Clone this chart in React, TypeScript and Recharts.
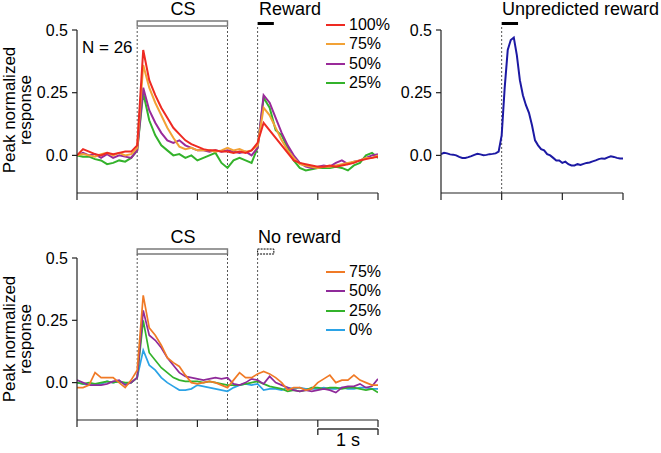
import React from 'react';
import { LineChart, Line, XAxis, YAxis, ReferenceLine, ReferenceArea } from 'recharts';

// ---------- time axes (s) ----------
const timeMain = [
  -1.0, -0.9, -0.8, -0.7, -0.6, -0.5, -0.4, -0.3, -0.2, -0.1, 0.0,
  0.1, 0.2, 0.3, 0.4, 0.5, 0.6, 0.7, 0.8, 0.9, 1.0,
  1.1, 1.2, 1.3, 1.4, 1.5, 1.6, 1.7, 1.8, 1.9, 2.0,
  2.1, 2.2, 2.3, 2.4, 2.5, 2.6, 2.7, 2.8, 2.9, 3.0,
  3.1, 3.2, 3.3, 3.4, 3.5, 3.6, 3.7, 3.8, 3.9, 4.0,
];
const timeUnpred = [
  -1.0, -0.95, -0.9, -0.85, -0.8, -0.75, -0.7, -0.65, -0.6, -0.55, -0.5,
  -0.45, -0.4, -0.35, -0.3, -0.25, -0.2, -0.15, -0.1, -0.05, 0.0,
  0.05, 0.1, 0.15, 0.2, 0.25, 0.3, 0.35, 0.4, 0.45, 0.5,
  0.55, 0.6, 0.65, 0.7, 0.75, 0.8, 0.85, 0.9, 0.95, 1.0,
  1.05, 1.1, 1.15, 1.2, 1.25, 1.3, 1.35, 1.4, 1.45, 1.5,
  1.55, 1.6, 1.65, 1.7, 1.75, 1.8, 1.85, 1.9, 1.95, 2.0,
];

// ---------- tick labels ----------
const mainXTicks = [-1, 0, 1, 2, 3, 4];
const unpredXTicks = [-1, 0, 1, 2];
const yTicks = [0, 0.25, 0.5];
const yTickLabels = ['0.0', '0.25', '0.5'];

// ---------- rewarded trials (top-left) ----------
const rew100 = [
  0.0, 0.025, 0.015, 0.005, 0.0, 0.01, 0.005, 0.01, 0.015, 0.015, 0.04,
  0.42, 0.30, 0.24, 0.19, 0.15, 0.11, 0.085, 0.06, 0.045, 0.035,
  0.025, 0.02, 0.02, 0.015, 0.015, 0.01, 0.015, 0.01, 0.02, 0.05,
  0.13, 0.10, 0.07, 0.04, 0.01, -0.02, -0.03, -0.035, -0.04, -0.045,
  -0.045, -0.04, -0.045, -0.04, -0.035, -0.03, -0.02, -0.015, -0.01, -0.005,
];
const rew75 = [
  0.0, 0.005, 0.0, -0.005, 0.005, 0.01, 0.0, 0.01, 0.0, 0.005, 0.03,
  0.36, 0.27, 0.21, 0.16, 0.11, 0.07, 0.035, 0.025, 0.03, 0.02,
  0.02, 0.02, 0.015, 0.02, 0.03, 0.02, 0.025, 0.015, 0.02, 0.04,
  0.19, 0.16, 0.11, 0.06, 0.02, -0.01, -0.035, -0.04, -0.045, -0.05,
  -0.045, -0.045, -0.04, -0.035, -0.03, -0.025, -0.02, -0.01, -0.01, 0.0,
];
const rew50 = [
  0.0, 0.01, 0.0, 0.005, -0.01, 0.005, -0.01, 0.0, -0.005, -0.01, 0.02,
  0.27, 0.18, 0.13, 0.09, 0.06, 0.05, 0.06, 0.04, 0.03, 0.02,
  0.02, 0.015, 0.02, 0.015, 0.02, 0.015, 0.01, 0.015, 0.0, 0.03,
  0.24, 0.21, 0.15, 0.09, 0.04, 0.0, -0.03, -0.045, -0.05, -0.045,
  -0.04, -0.045, -0.03, -0.02, -0.035, -0.025, -0.02, -0.01, 0.0, 0.005,
];
const rew25 = [
  0.0, -0.005, -0.005, -0.015, -0.02, -0.035, -0.03, -0.02, -0.025, -0.01, 0.02,
  0.25, 0.14, 0.08, 0.04, 0.02, 0.0, 0.005, -0.01, 0.0, -0.02,
  -0.01, 0.0, 0.01, -0.03, -0.05, -0.02, -0.01, -0.02, -0.03, 0.03,
  0.23, 0.19, 0.10, 0.08, 0.03, -0.02, -0.05, -0.06, -0.055, -0.05,
  -0.05, -0.05, -0.045, -0.05, -0.06, -0.04, -0.03, 0.0, 0.01, -0.01,
];

// ---------- unpredicted reward (top-right) ----------
const unpredicted = [
  0.005, 0.01, 0.008, 0.004, 0.003, 0.0, -0.006, -0.01, -0.01, -0.007, -0.003,
  0.002, 0.006, 0.004, 0.001, 0.002, 0.005, 0.006, 0.008, 0.015, 0.08,
  0.27, 0.42, 0.46, 0.47, 0.40, 0.30, 0.24, 0.20, 0.17, 0.12,
  0.06, 0.04, 0.025, 0.02, 0.005, 0.0, -0.01, -0.02, -0.02, -0.03,
  -0.025, -0.035, -0.04, -0.04, -0.035, -0.038, -0.034, -0.03, -0.028, -0.024,
  -0.02, -0.015, -0.012, -0.013, -0.008, -0.004, -0.006, -0.01, -0.012, -0.012,
];

// ---------- unrewarded trials (bottom) ----------
const omit75 = [
  -0.02, -0.02, -0.01, 0.04, 0.02, 0.02, 0.02, 0.0, -0.02, 0.01, 0.05,
  0.35, 0.22, 0.19, 0.15, 0.10, 0.08, 0.065, 0.03, 0.0, -0.005,
  0.0, 0.005, 0.0, -0.01, -0.02, 0.01, 0.04, 0.02, 0.02, 0.035,
  0.045, 0.035, 0.02, 0.0, -0.03, -0.02, -0.02, -0.03, -0.025, 0.0,
  0.015, 0.03, 0.0, 0.01, 0.01, 0.03, 0.01, 0.0, -0.01, -0.01,
];
const omit50 = [
  0.01, 0.0, -0.01, -0.01, -0.01, -0.005, 0.005, 0.01, -0.01, 0.0, 0.02,
  0.29, 0.19, 0.17, 0.14, 0.10, 0.07, 0.04, 0.025, 0.02, 0.015,
  0.01, 0.015, 0.02, 0.015, 0.02, -0.005, -0.01, 0.0, 0.015, 0.01,
  -0.005, 0.025, 0.0, -0.01, -0.02, -0.03, -0.035, -0.03, -0.035, -0.03,
  -0.025, -0.03, -0.04, -0.02, -0.015, -0.015, -0.005, -0.02, -0.015, 0.015,
];
const omit25 = [
  0.0, -0.005, 0.0, -0.005, 0.0, 0.005, 0.0, 0.005, 0.0, 0.0, 0.02,
  0.25, 0.12, 0.09, 0.06, 0.04, 0.02, 0.01, 0.005, 0.005, 0.005,
  0.0, 0.005, 0.0, -0.005, -0.01, -0.01, -0.01, -0.005, 0.0, 0.005,
  -0.005, -0.015, -0.02, -0.025, -0.035, -0.03, -0.035, -0.03, -0.02, -0.02,
  -0.025, -0.02, -0.02, -0.025, -0.02, -0.02, -0.025, -0.03, -0.025, -0.04,
];
const omit0 = [
  0.0, -0.005, -0.01, -0.01, -0.005, 0.005, 0.0, 0.005, -0.005, 0.0, 0.02,
  0.13, 0.07, 0.05, 0.02, 0.0, -0.015, -0.03, -0.03, -0.025, -0.01,
  -0.015, -0.02, -0.025, -0.03, -0.035, -0.02, -0.01, -0.005, -0.01, -0.005,
  -0.03, -0.025, -0.025, -0.03, -0.02, -0.025, -0.02, -0.025, -0.025, -0.025,
  -0.02, -0.025, -0.025, -0.02, -0.025, -0.025, -0.02, -0.02, -0.025, -0.025,
];

// ---------- series definitions ----------
const topSeries = [
  { key: 'p25', name: '25%', color: '#33b22b', values: rew25 },
  { key: 'p50', name: '50%', color: '#9a2a9a', values: rew50 },
  { key: 'p75', name: '75%', color: '#f2a236', values: rew75 },
  { key: 'p100', name: '100%', color: '#ee2a22', values: rew100 },
];
const topLegendOrder = ['100%', '75%', '50%', '25%'];

const bottomSeries = [
  { key: 'p0', name: '0%', color: '#2ba3e6', values: omit0 },
  { key: 'p25', name: '25%', color: '#33b22b', values: omit25 },
  { key: 'p50', name: '50%', color: '#8f2a9a', values: omit50 },
  { key: 'p75', name: '75%', color: '#f07a26', values: omit75 },
];
const bottomLegendOrder = ['75%', '50%', '25%', '0%'];

const unpredColor = '#1c19a3';

const topData = timeMain.map((t, i) => {
  const row: any = { t };
  topSeries.forEach((s) => (row[s.key] = s.values[i]));
  return row;
});
const bottomData = timeMain.map((t, i) => {
  const row: any = { t };
  bottomSeries.forEach((s) => (row[s.key] = s.values[i]));
  return row;
});
const unpredData = timeUnpred.map((t, i) => ({ t, v: unpredicted[i] }));

const FONT = '"Liberation Sans", Arial, Helvetica, sans-serif';
const AXIS = '#222';
const DASH = '#555';

const fmtY = (v: number) => yTickLabels[yTicks.indexOf(v)] ?? String(v);

function Text({ x, y, size = 18, children, align = 'left' }: any) {
  const w = 200;
  const left = align === 'center' ? x - w / 2 : x;
  return (
    <div
      style={{
        position: 'absolute',
        left,
        top: y - size / 2 - 1,
        width: align === 'center' ? w : undefined,
        textAlign: align,
        fontSize: size,
        lineHeight: `${size}px`,
        whiteSpace: 'nowrap',
        color: '#000',
      }}
    >
      {children}
    </div>
  );
}

function YLabel({ cx, cy }: any) {
  return (
    <div
      style={{
        position: 'absolute',
        left: cx - 100,
        top: cy - 16,
        width: 200,
        height: 32,
        lineHeight: '16px',
        fontSize: 17,
        textAlign: 'center',
        transform: 'rotate(-90deg)',
        color: '#000',
      }}
    >
      Peak normalized
      <br />
      response
    </div>
  );
}

function Legend({ x, y, items }: any) {
  return (
    <div style={{ position: 'absolute', left: x, top: y }}>
      {items.map((it: any, i: number) => (
        <div key={it.name} style={{ position: 'absolute', left: 0, top: i * 19.3 - 9, height: 18, whiteSpace: 'nowrap' }}>
          <div style={{ position: 'absolute', left: 0, top: 8, width: 19, height: 2, background: it.color }} />
          <div style={{ position: 'absolute', left: 23, top: 0, fontSize: 16, lineHeight: '18px' }}>{it.name}</div>
        </div>
      ))}
    </div>
  );
}

const xAxisProps = {
  dataKey: 't',
  type: 'number' as const,
  height: 10,
  tickSize: 7,
  tickFormatter: () => '',
  axisLine: { stroke: AXIS, strokeWidth: 1.2 },
  tickLine: { stroke: AXIS, strokeWidth: 1.2 },
  allowDataOverflow: true,
};
const yAxisProps = {
  type: 'number' as const,
  domain: [-0.15, 0.5],
  ticks: yTicks,
  tickFormatter: fmtY,
  tickSize: 5,
  tickMargin: 4,
  tick: { fill: '#000', fontSize: 16, fontFamily: FONT },
  axisLine: { stroke: AXIS, strokeWidth: 1.2 },
  tickLine: { stroke: AXIS, strokeWidth: 1.2 },
  allowDataOverflow: true,
};

export default function App() {
  const byName = (list: any[], n: string) => list.find((s) => s.name === n);
  return (
    <div style={{ position: 'absolute', left: 0, top: 0, width: 661, height: 453, background: '#fff', fontFamily: FONT }}>
      {/* top-left: rewarded */}
      <div style={{ position: 'absolute', left: 0, top: 0 }}>
        <LineChart width={400} height={210} data={topData} margin={{ top: 30, right: 22, bottom: 7, left: 17 }}>
          <XAxis {...xAxisProps} domain={[-1, 4]} ticks={mainXTicks} />
          <YAxis {...yAxisProps} width={60} />
          <ReferenceLine segment={[{ x: 0, y: -0.15 }, { x: 0, y: 0.516 }]} stroke={DASH} strokeDasharray="2 2" ifOverflow="visible" />
          <ReferenceLine segment={[{ x: 1.5, y: -0.15 }, { x: 1.5, y: 0.516 }]} stroke={DASH} strokeDasharray="2 2" ifOverflow="visible" />
          <ReferenceLine segment={[{ x: 2, y: -0.15 }, { x: 2, y: 0.52 }]} stroke={DASH} strokeDasharray="2 2" ifOverflow="visible" />
          <ReferenceArea x1={0} x2={1.5} y1={0.516} y2={0.536} fill="#fff" fillOpacity={1} stroke="#7a7a7a" strokeWidth={1.4} ifOverflow="visible" />
          <ReferenceArea x1={2} x2={2.27} y1={0.52} y2={0.532} fill="#000" fillOpacity={1} stroke="none" ifOverflow="visible" />
          {topSeries.map((s) => (
            <Line key={s.key} dataKey={s.key} stroke={s.color} strokeWidth={2} dot={false} type="linear" isAnimationActive={false} />
          ))}
        </LineChart>
      </div>

      {/* top-right: unpredicted reward */}
      <div style={{ position: 'absolute', left: 400, top: 0 }}>
        <LineChart width={261} height={210} data={unpredData} margin={{ top: 30, right: 38, bottom: 7, left: 0 }}>
          <XAxis {...xAxisProps} domain={[-1, 2]} ticks={unpredXTicks} />
          <YAxis {...yAxisProps} width={41} />
          <ReferenceLine segment={[{ x: 0, y: -0.15 }, { x: 0, y: 0.52 }]} stroke={DASH} strokeDasharray="2 2" ifOverflow="visible" />
          <ReferenceArea x1={0} x2={0.27} y1={0.52} y2={0.532} fill="#000" fillOpacity={1} stroke="none" ifOverflow="visible" />
          <Line dataKey="v" stroke={unpredColor} strokeWidth={2} dot={false} type="linear" isAnimationActive={false} />
        </LineChart>
      </div>

      {/* bottom: omitted reward */}
      <div style={{ position: 'absolute', left: 0, top: 210 }}>
        <LineChart width={400} height={243} data={bottomData} margin={{ top: 48, right: 22, bottom: 23, left: 17 }}>
          <XAxis {...xAxisProps} domain={[-1, 4]} ticks={mainXTicks} />
          <YAxis {...yAxisProps} width={60} />
          <ReferenceLine segment={[{ x: 0, y: -0.15 }, { x: 0, y: 0.516 }]} stroke={DASH} strokeDasharray="2 2" ifOverflow="visible" />
          <ReferenceLine segment={[{ x: 1.5, y: -0.15 }, { x: 1.5, y: 0.516 }]} stroke={DASH} strokeDasharray="2 2" ifOverflow="visible" />
          <ReferenceLine segment={[{ x: 2, y: -0.15 }, { x: 2, y: 0.516 }]} stroke={DASH} strokeDasharray="2 2" ifOverflow="visible" />
          <ReferenceArea x1={0} x2={1.5} y1={0.516} y2={0.536} fill="#fff" fillOpacity={1} stroke="#7a7a7a" strokeWidth={1.4} ifOverflow="visible" />
          <ReferenceArea x1={2} x2={2.27} y1={0.516} y2={0.536} fill="#fff" fillOpacity={1} stroke="#000" strokeWidth={1} strokeDasharray="2 1" ifOverflow="visible" />
          {/* 1 s scale bar */}
          <ReferenceLine segment={[{ x: 3, y: -0.186 }, { x: 4, y: -0.186 }]} stroke="#333" strokeWidth={1.4} ifOverflow="visible" />
          <ReferenceLine segment={[{ x: 3, y: -0.186 }, { x: 3, y: -0.21 }]} stroke="#333" strokeWidth={1.4} ifOverflow="visible" />
          <ReferenceLine segment={[{ x: 4, y: -0.186 }, { x: 4, y: -0.21 }]} stroke="#333" strokeWidth={1.4} ifOverflow="visible" />
          {bottomSeries.map((s) => (
            <Line key={s.key} dataKey={s.key} stroke={s.color} strokeWidth={1.7} dot={false} type="linear" isAnimationActive={false} />
          ))}
        </LineChart>
      </div>

      {/* annotations */}
      <Text x={183} y={10} align="center">CS</Text>
      <Text x={259} y={10}>Reward</Text>
      <Text x={82} y={48} size={17}>N = 26</Text>
      <Text x={502} y={10}>Unpredicted reward</Text>
      <Text x={183} y={238} align="center">CS</Text>
      <Text x={258} y={238}>No reward</Text>
      <Text x={348} y={441} align="center">1 s</Text>

      <YLabel cx={18} cy={110} />
      <YLabel cx={18} cy={339} />

      <Legend x={326} y={25} items={topLegendOrder.map((n) => byName(topSeries, n))} />
      <Legend x={326} y={272} items={bottomLegendOrder.map((n) => byName(bottomSeries, n))} />
    </div>
  );
}
